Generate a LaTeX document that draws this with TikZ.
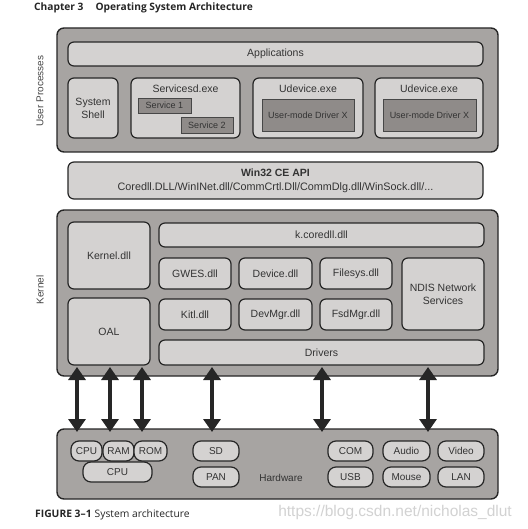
\documentclass[tikz,border=0pt]{standalone}
\usepackage{fontspec}
\setmainfont{Liberation Sans}
\newfontfamily\capfont{Open Sans}
\usetikzlibrary{arrows.meta}
\definecolor{outg}{HTML}{A7A4A2}
\definecolor{lightg}{HTML}{D4D2D1}
\definecolor{darkg}{HTML}{8F8B89}
\definecolor{bord}{HTML}{262626}
\definecolor{txt}{HTML}{333333}
\definecolor{wm}{HTML}{D2D2D2}
\newcommand\bx[7]{\node[#6, minimum width=#4pt-#2pt, minimum height=#5pt-#3pt] (#1) at ({(#2+#4)/2},{(#3+#5)/2}) {#7};}
\begin{document}
\begin{tikzpicture}[x=1pt,y=-1pt,
  outer/.style={draw=bord, line width=1.4pt, fill=outg, rounded corners=7pt, inner sep=0pt},
  inner/.style={draw=bord, line width=1.2pt, fill=lightg, rounded corners=6pt, text=txt, font=\fontsize{10.5}{13}\selectfont, align=center, inner sep=0pt},
  dark/.style={draw=bord!85, line width=0.9pt, fill=darkg, text=txt, font=\fontsize{9}{11}\selectfont, inner sep=0pt},
  chip/.style={inner, rounded corners=8pt, font=\fontsize{10}{12}\selectfont},
  lbl/.style={text=txt, font=\fontsize{10.5}{13}\selectfont, inner sep=0pt},
  side/.style={text=txt!90, font=\fontsize{10}{12}\selectfont, rotate=90, inner sep=0pt},
  bigarrow/.style={draw=bord, line width=4pt, {Triangle[width=17pt,length=13pt]}-{Triangle[width=17pt,length=13pt]}}
]
\useasboundingbox[fill=white] (0,0) rectangle (527,529);

\node[anchor=west, inner sep=0pt, font=\capfont\bfseries\fontsize{10.2}{12}\selectfont, text=bord] (title) at (34,8) {Chapter 3\hspace{12pt}Operating System Architecture};

% User processes
\bx{up}{57}{28}{498}{152}{outer}{}
\node[side] (uplbl) at (40,91) {User Processes};
\bx{apps}{68}{42}{483}{66}{inner}{Applications}
\bx{shell}{68}{78}{118}{138}{inner}{System\\Shell}
\bx{svc}{131}{78}{240}{138}{inner}{}
\node[lbl] (svclbl) at (185.5,89) {Servicesd.exe};
\bx{s1}{138}{98}{191}{113}{dark}{Service 1}
\bx{s2}{181}{117}{233}{133}{dark}{Service 2}
\bx{ud1}{253}{78}{363}{138}{inner}{}
\node[lbl] (ud1lbl) at (308,89) {Udevice.exe};
\bx{drv1}{262}{99}{354}{131}{dark}{User-mode Driver X}
\bx{ud2}{375}{78}{483}{138}{inner}{}
\node[lbl] (ud2lbl) at (429,89) {Udevice.exe};
\bx{drv2}{383}{99}{476}{131}{dark}{User-mode Driver X}

% API
\bx{api}{68}{162}{483}{199}{inner}{\textbf{Win32 CE API}\\[1pt]\fontsize{10.8}{12}\selectfont Coredll.DLL/WinINet.dll/CommCrtl.Dll/CommDlg.dll/WinSock.dll/...}

% Kernel
\bx{kern}{57}{210}{498}{376}{outer}{}
\node[side] (kernlbl) at (40,290) {Kernel};
\bx{kdll}{68}{222}{150}{289}{inner}{Kernel.dll}
\bx{oal}{68}{298}{150}{365}{inner}{OAL}
\bx{kcore}{159}{223}{484}{247}{inner}{k.coredll.dll}
\bx{gwes}{159}{258}{231}{289}{inner}{GWES.dll}
\bx{device}{239}{258}{312}{289}{inner}{Device.dll}
\bx{filesys}{320}{258}{392}{289}{inner}{Filesys.dll}
\bx{ndis}{402}{258}{484}{330}{inner}{NDIS Network\\Services}
\bx{kitl}{159}{299}{231}{330}{inner}{Kitl.dll}
\bx{devmgr}{239}{299}{312}{330}{inner}{DevMgr.dll}
\bx{fsdmgr}{320}{299}{392}{330}{inner}{FsdMgr.dll}
\bx{drivers}{159}{340}{484}{365}{inner}{Drivers}

% Hardware
\bx{hw}{57}{429}{498}{499}{outer}{}
\bx{cpua}{71}{441}{102}{461}{chip}{CPU}
\bx{ram}{103}{441}{134}{461}{chip}{RAM}
\bx{rom}{134}{441}{167}{461}{chip}{ROM}
\bx{cpub}{83}{462}{152}{482}{chip}{CPU}
\bx{sd}{193}{441}{239}{461}{chip}{SD}
\bx{pan}{193}{467}{239}{487}{chip}{PAN}
\node[lbl, font=\fontsize{10}{12}\selectfont] (hwlbl) at (281,478) {Hardware};
\bx{com}{328}{441}{373}{461}{chip}{COM}
\bx{usb}{328}{467}{373}{487}{chip}{USB}
\bx{audio}{383}{441}{430}{461}{chip}{Audio}
\bx{mouse}{383}{467}{430}{487}{chip}{Mouse}
\bx{video}{438}{441}{484}{461}{chip}{Video}
\bx{lan}{438}{467}{484}{487}{chip}{LAN}

% Arrows
\foreach \i/\x in {1/77,2/110,3/142,4/212,5/322,6/428}{
  \coordinate (at\i) at (\x,367);
  \coordinate (ab\i) at (\x,432);
  \draw[bigarrow] (at\i) -- (ab\i);
}

\node[anchor=west, inner sep=0pt, font=\capfont\fontsize{10.3}{12}\selectfont, text=bord] (caption) at (35,515) {\textbf{FIGURE 3–1}\hspace{3pt}System architecture};
\node[anchor=east, inner sep=0pt, font=\fontsize{15.5}{17}\selectfont, text=wm] (wmark) at (512,512) {https://blog.csdn.net/nicholas\_dlut};
\end{tikzpicture}
\end{document}
